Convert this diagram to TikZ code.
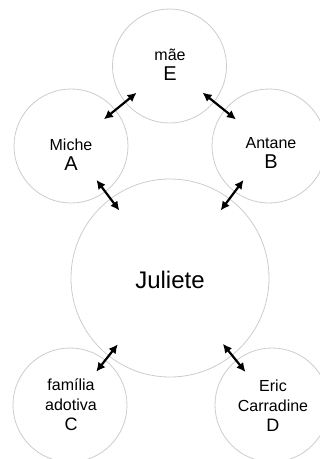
\documentclass[tikz,border=0pt]{standalone}
\usepackage{fontspec}
\setmainfont{Liberation Sans}
\usetikzlibrary{arrows.meta}

\tikzset{
  pessoa/.style={circle, draw=gray!40, line width=0.8pt, minimum size=114pt, inner sep=0pt},
  central/.style={pessoa, minimum size=198pt},
  nome/.style={align=center, font=\fontsize{16}{20}\selectfont},
  rel/.style={{Latex[length=9pt,width=9pt]}-{Latex[length=9pt,width=9pt]}, line width=2.2pt,
    shorten <=-15pt, shorten >=-15pt},
}
\newcommand{\letra}[2]{{\fontsize{#1}{#1}\selectfont #2}}

\begin{document}
\begin{tikzpicture}[x=1pt, y=-1pt]
  \useasboundingbox (0,0) rectangle (320,459);
  \clip (0,0) rectangle (320,459);

  % Nodos
  \node[pessoa] (E) at (169.5,66) {};
  \node[pessoa] (A) at (71,146) {};
  \node[pessoa] (B) at (269,146) {};
  \node[central] (J) at (170,278) {};
  \node[pessoa] (C) at (70,405) {};
  \node[pessoa] (D) at (272,405) {};

  % Textos
  \node[nome] (tE) at (170,65) {mãe\\\letra{20}{E}};
  \node[nome] (tA) at (71,155) {Miche\\\letra{20}{A}};
  \node[nome] (tB) at (271,153) {Antane\\\letra{20}{B}};
  \node[font=\fontsize{24}{24}\selectfont] (tJ) at (170,280) {Juliete};
  \node[nome] (tC) at (71,405) {família\\adotiva\\\letra{18}{C}};
  \node[nome] (tD) at (273,406) {Eric\\Carradine\\\letra{18}{D}};

  \draw[rel] (E) -- (A);
  \draw[rel] (E) -- (B);
  \draw[rel] (A) -- (J);
  \draw[rel] (B) -- (J);
  \draw[rel] (J) -- (C);
  \draw[rel] (J) -- (D);
\end{tikzpicture}
\end{document}
